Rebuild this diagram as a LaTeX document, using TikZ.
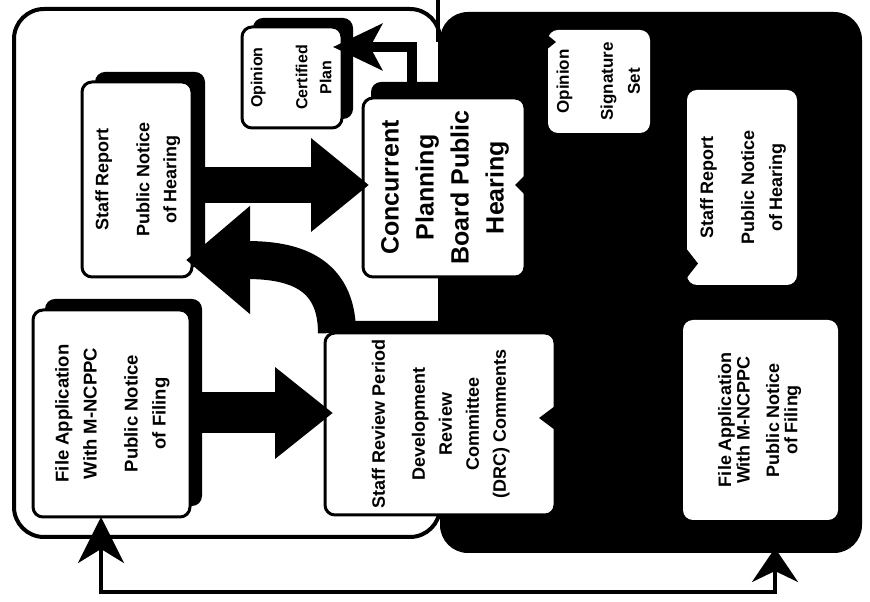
\documentclass[tikz,border=0pt]{standalone}
\usepackage{fontspec}
\setmainfont{Liberation Sans}
\usepackage{graphicx}
\usetikzlibrary{arrows.meta,calc,shadows}

% rotated, centred block of lines: size, line pitch, lines
\newcommand{\boxtext}[3]{\rotatebox{90}{\fontsize{#1}{#2}\selectfont\begin{tabular}{@{}c@{}}#3\end{tabular}}}

\tikzset{
  panel/.style={rectangle, rounded corners=30pt, inner sep=0pt, outer sep=0pt, line width=4pt},
  card/.style={rectangle, rounded corners=10pt, inner sep=0pt, outer sep=0pt,
    fill=white, draw=black, line width=3pt, font=\bfseries},
  inkcard/.style={rectangle, rounded corners=10pt, inner sep=0pt, outer sep=0pt,
    fill=white, font=\bfseries},
  raised/.style 2 args={general shadow={fill=black, shadow xshift=#1, shadow yshift=#2}},
  blk/.style n args={3}{draw=black, line width=#1, line cap=butt, -{Triangle[length=#2, width=#3]}},
  thinarr/.style={draw=black, line width=10pt, line join=miter,
    -{Stealth[length=49pt, width=46pt, inset=12pt]}},
  looparr/.style={draw=black, line width=4pt, line join=miter,
    {Stealth[length=46pt, width=46pt, inset=14pt]}-{Stealth[length=34pt, width=46pt, inset=11pt]}},
  rule/.style={draw=black, line width=4pt},
  notch/.style={fill=black}
}

\begin{document}
\begin{tikzpicture}[x=1pt, y=1pt]
\useasboundingbox (0,0) rectangle (870,602);
\fill[white] (0,0) rectangle (870,602);

% the two process panels
\node[panel, draw=black, fill=white, minimum width=426pt, minimum height=528pt] (westpanel) at (227,329) {};
\coordinate (riserTop) at (438,602);
\coordinate (riserFoot) at (438,560);
\draw[rule] (riserTop) -- (riserFoot);
\node[panel, fill=black, rounded corners=28pt, minimum width=422pt, minimum height=541pt] (eastpanel) at (651,319.5) {};

% boxes of the west panel
\node[card, raised={11pt}{9pt}, minimum width=100pt, minimum height=101pt] (ocp) at (292,524.5)
  {\boxtext{16}{24}{Opinion\\[21pt]Certified\\Plan}};
\node[card, raised={13pt}{10pt}, minimum width=110pt, minimum height=195pt] (srL) at (137,422.5)
  {\boxtext{18}{27}{Staff Report\\[14pt]Public Notice\\of Hearing}};
\node[card, raised={8pt}{16pt}, minimum width=162pt, minimum height=179pt] (cpb) at (444,414.5)
  {\boxtext{25}{35}{Concurrent\\Planning\\Board Public\\Hearing}};
\node[card, raised={12pt}{11pt}, minimum width=157pt, minimum height=207pt] (faL) at (111.5,188.5)
  {\boxtext{18.5}{28}{File Application\\With M-NCPPC\\[13pt]Public Notice\\of Filing}};
\node[card, raised={8pt}{12pt}, minimum width=230pt, minimum height=182pt] (rev) at (440,178)
  {\boxtext{18}{27}{Staff Review Period\\[13pt]Development\\Review\\Committee\\(DRC) Comments}};

% boxes of the east panel
\node[inkcard, minimum width=102pt, minimum height=103pt] (oss) at (599,520.5)
  {\boxtext{17}{27}{Opinion\\[17pt]Signature\\Set}};
\node[inkcard, minimum width=110pt, minimum height=195pt] (srR) at (742,414.5)
  {\boxtext{18}{28}{Staff Report\\[13pt]Public Notice\\of Hearing}};
\node[inkcard, minimum width=155pt, minimum height=200pt] (faR) at (760.5,182)
  {\boxtext{18}{18}{File Application\\With M-NCPPC\\[11pt]Public Notice\\of Filing}};

% block arrows
\coordinate (aStart) at ([shift={(13pt,-5.5pt)}]srL.east);
\path (aStart -| cpb.west) coordinate (aEnd);
\draw[blk={36pt}{58pt}{90pt}] (aStart) -- ([xshift=6pt]aEnd);

\coordinate (bStart) at ([shift={(12pt,0.5pt)}]faL.east);
\path (bStart -| rev.west) coordinate (bEnd);
\draw[blk={41pt}{58pt}{88pt}] (bStart) -- ([xshift=8pt]bEnd);

\coordinate (cStart) at ([xshift=12pt]rev.north west);
\coordinate (cEnd) at ([shift={(-6pt,-80.5pt)}]srL.east);
\draw[blk={38pt}{64pt}{104pt}] (cStart) .. controls +(0,62) and +(105,0) .. (cEnd);

% hearing to certified plan
\coordinate (dStart) at ([xshift=-32pt]cpb.north);
\coordinate (dEnd) at ([shift={(-9pt,30.5pt)}]ocp.east);
\draw[thinarr] (dStart) |- (dEnd);

% return loop between the two filings
\coordinate (eL) at ([xshift=-10.5pt]faL.south);
\coordinate (eR) at ([shift={(124pt,5pt)}]eastpanel.south);
\coordinate (eBase) at (438,10);
\draw[looparr] (eL) |- (eBase) -| (eR);

% arrow points entering boxes from the dark panel
\fill[notch] ([yshift=12.5pt]cpb.east) -- ([yshift=-7.5pt]cpb.east) -- ([shift={(-10pt,2.5pt)}]cpb.east) -- cycle;
\fill[notch] ([yshift=46pt]oss.west) -- ([yshift=33pt]oss.west) -- ([shift={(8pt,39.5pt)}]oss.west) -- cycle;
\fill[notch] ([yshift=-62pt]srR.west) -- ([yshift=-90pt]srR.west) -- ([shift={(11pt,-76pt)}]srR.west) -- cycle;
\fill[notch] ([yshift=18pt]rev.east) -- ([yshift=-6pt]rev.east) -- ([shift={(-16pt,6pt)}]rev.east) -- cycle;
\end{tikzpicture}
\end{document}
